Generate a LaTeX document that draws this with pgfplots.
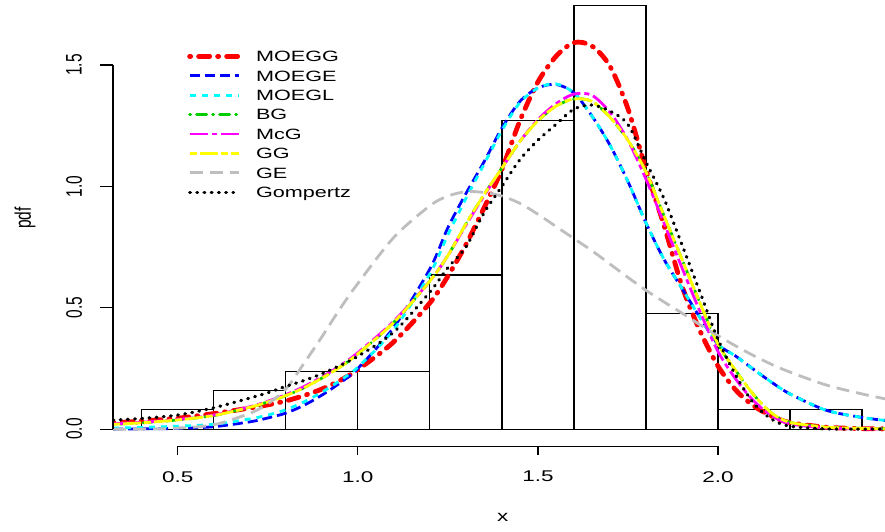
\documentclass[border=0pt]{standalone}
\usepackage{fontspec}
\setmainfont[FakeStretch=1.45]{Liberation Sans}
\newfontfamily\plainfont{Liberation Sans}
\usepackage{graphicx}
\usepackage{pgfplots}
\usepackage{pgfplotstable}
\pgfplotsset{compat=1.18}

\definecolor{rred}{RGB}{255,0,0}
\definecolor{rblue}{RGB}{0,0,255}
\definecolor{rcyan}{RGB}{0,255,255}
\definecolor{rgreen}{RGB}{0,205,0}
\definecolor{rmagenta}{RGB}{255,0,255}
\definecolor{ryellow}{RGB}{255,255,0}
\definecolor{rgray}{RGB}{190,190,190}

\newcommand\tickfont{\fontsize{7.75}{9}\selectfont}
\newcommand\legfont{\fontsize{7.45}{9}\selectfont}
% rotated labels: stretch the glyph height, not the length
\newcommand\rot[1]{\scalebox{1}[1.45]{\plainfont\fontsize{7.75}{9}\selectfont #1}}

% histogram of the 63 observations, bin width 0.2
\pgfplotstableread{
x   y
0.4 0.0794
0.6 0.1587
0.8 0.2381
1.0 0.2381
1.2 0.6349
1.4 1.2698
1.6 1.7460
1.8 0.4762
2.0 0.0794
2.2 0.0794
2.4 0
}\hist

% fitted densities
\pgfplotstableread{
x    moegg moege moegl bg    mcg   gg    ge    gomp
0.32 0.026 0.000 0.004 0.020 0.022 0.020 0.000 0.037
0.40 0.033 0.001 0.007 0.026 0.028 0.026 0.000 0.044
0.50 0.045 0.003 0.012 0.038 0.040 0.038 0.004 0.058
0.60 0.064 0.010 0.020 0.056 0.058 0.056 0.018 0.088
0.70 0.087 0.030 0.042 0.090 0.092 0.090 0.065 0.128
0.75 0.100 0.046 0.058 0.112 0.115 0.112 0.105 0.150
0.80 0.116 0.066 0.080 0.138 0.142 0.138 0.165 0.176
0.85 0.138 0.098 0.112 0.170 0.175 0.170 0.270 0.200
0.90 0.165 0.140 0.152 0.210 0.215 0.210 0.380 0.228
0.95 0.200 0.190 0.200 0.255 0.260 0.255 0.495 0.262
1.00 0.245 0.250 0.255 0.310 0.315 0.310 0.600 0.300
1.10 0.360 0.420 0.410 0.440 0.445 0.440 0.790 0.400
1.20 0.520 0.660 0.640 0.610 0.610 0.610 0.920 0.565
1.25 0.630 0.830 0.800 0.715 0.715 0.715 0.960 0.665
1.30 0.760 0.970 0.950 0.845 0.840 0.845 0.978 0.750
1.35 0.910 1.100 1.090 0.965 0.960 0.965 0.975 0.890
1.40 1.070 1.240 1.230 1.075 1.075 1.075 0.960 1.000
1.45 1.270 1.350 1.345 1.185 1.185 1.185 0.930 1.110
1.50 1.430 1.405 1.405 1.270 1.275 1.270 0.885 1.190
1.55 1.535 1.420 1.422 1.330 1.340 1.330 0.835 1.255
1.60 1.592 1.385 1.385 1.360 1.380 1.360 0.785 1.318
1.65 1.578 1.290 1.290 1.350 1.375 1.350 0.735 1.335
1.70 1.495 1.170 1.170 1.285 1.305 1.285 0.680 1.310
1.75 1.320 1.020 1.020 1.190 1.190 1.190 0.625 1.255
1.80 1.070 0.850 0.850 1.060 1.030 1.060 0.572 1.100
1.85 0.840 0.700 0.700 0.880 0.850 0.880 0.524 0.950
1.90 0.590 0.580 0.580 0.700 0.665 0.700 0.478 0.760
1.95 0.405 0.460 0.460 0.520 0.485 0.520 0.430 0.565
2.00 0.260 0.350 0.350 0.350 0.320 0.350 0.385 0.370
2.05 0.160 0.300 0.300 0.240 0.205 0.240 0.342 0.220
2.10 0.095 0.245 0.245 0.140 0.115 0.140 0.302 0.105
2.15 0.053 0.192 0.192 0.065 0.055 0.065 0.266 0.040
2.20 0.027 0.145 0.145 0.028 0.022 0.028 0.235 0.012
2.30 0.008 0.078 0.078 0.008 0.005 0.008 0.182 0.001
2.40 0.002 0.048 0.048 0.003 0.001 0.003 0.145 0.000
2.48 0.001 0.033 0.033 0.001 0.000 0.001 0.120 0.000
}\curves

\begin{document}
\begin{tikzpicture}
\begin{axis}[
  name=ax,
  scale only axis, width=385.9pt, height=223pt,
  xmin=0.32, xmax=2.464, ymin=-0.07, ymax=1.7676,
  axis lines*=left, axis line style={draw=none},
  xtick={0.5,1,1.5,2}, xticklabels={0.5,1.0,1.5,2.0},
  ytick={0,0.5,1,1.5}, yticklabels={\rot{0.0},\rot{0.5},\rot{1.0},\rot{1.5}},
  major tick length=0pt, tick style={draw=none},
  xticklabel style={font=\tickfont, anchor=center, yshift=-15.3pt},
  yticklabel style={anchor=center, xshift=-19.5pt, rotate=90},
  clip mode=individual,
  legend style={draw=none, fill=none, at={(axis cs:0.525,1.566)}, anchor=north west,
    font=\legfont, inner sep=0pt, row sep=0pt,
    nodes={inner sep=0pt, text height=6.2pt, text depth=3.5pt, anchor=base west}},
  legend cell align=left,
  legend image code/.code={\draw[#1] (0pt,2.7pt) -- (24.5pt,2.7pt); \path (32pt,2.7pt);},
  every axis plot/.append style={smooth, line cap=round},
]

\addplot[forget plot, ybar interval, draw=black, fill=none, line width=0.6pt] table[x=x,y=y] {\hist};

\addplot[rred, line width=2.4pt, dash pattern=on 0.5pt off 4pt on 5.5pt off 4pt] table[x=x,y=moegg] {\curves};
\addlegendentry{MOEGG}
\addplot[rblue, line width=1.4pt, line cap=butt, dash pattern=on 5pt off 2.5pt] table[x=x,y=moege] {\curves};
\addlegendentry{MOEGE}
\addplot[rcyan, line width=1.4pt, line cap=butt, dash pattern=on 3pt off 3pt] table[x=x,y=moegl] {\curves};
\addlegendentry{MOEGL}
\addplot[rgreen, line width=1.4pt, dash pattern=on 0.5pt off 3pt on 5pt off 3pt] table[x=x,y=bg] {\curves};
\addlegendentry{BG}
\addplot[rmagenta, line width=1.4pt, line cap=butt, dash pattern=on 9pt off 2pt on 2.5pt off 2pt] table[x=x,y=mcg] {\curves};
\addlegendentry{McG}
\addplot[ryellow, line width=1.4pt, line cap=butt, dash pattern=on 3.5pt off 1.5pt on 9pt off 1.5pt] table[x=x,y=gg] {\curves};
\addlegendentry{GG}
\addplot[rgray, line width=1.4pt, line cap=butt, dash pattern=on 6.5pt off 3.5pt] table[x=x,y=ge] {\curves};
\addlegendentry{GE}
\addplot[black, line width=1.6pt, dash pattern=on 0.4pt off 3.2pt] table[x=x,y=gomp] {\curves};
\addlegendentry{Gompertz}

% R style axes: spines only across the tick range
\draw[line width=0.6pt] (axis cs:0.5,-0.07) -- (axis cs:2,-0.07);
\pgfplotsinvokeforeach{0.5,1,1.5,2}{\draw[line width=0.6pt] (axis cs:#1,-0.07) -- ++(0pt,-4.5pt);}
\draw[line width=0.6pt] (axis cs:0.32,0) -- (axis cs:0.32,1.5);
\pgfplotsinvokeforeach{0,0.5,1,1.5}{\draw[line width=0.6pt] (axis cs:0.32,#1) -- ++(-6.5pt,0pt);}

\node[font=\tickfont, yshift=-35.7pt] at (axis cs:1.402,-0.07) {x};
\node[xshift=-44pt, rotate=90] at (axis cs:0.32,0.87) {\rot{pdf}};
\end{axis}
\pgfresetboundingbox
\path ([xshift=-56.5pt,yshift=-42.5pt]ax.south west) rectangle (ax.north east);
\end{tikzpicture}
\end{document}
